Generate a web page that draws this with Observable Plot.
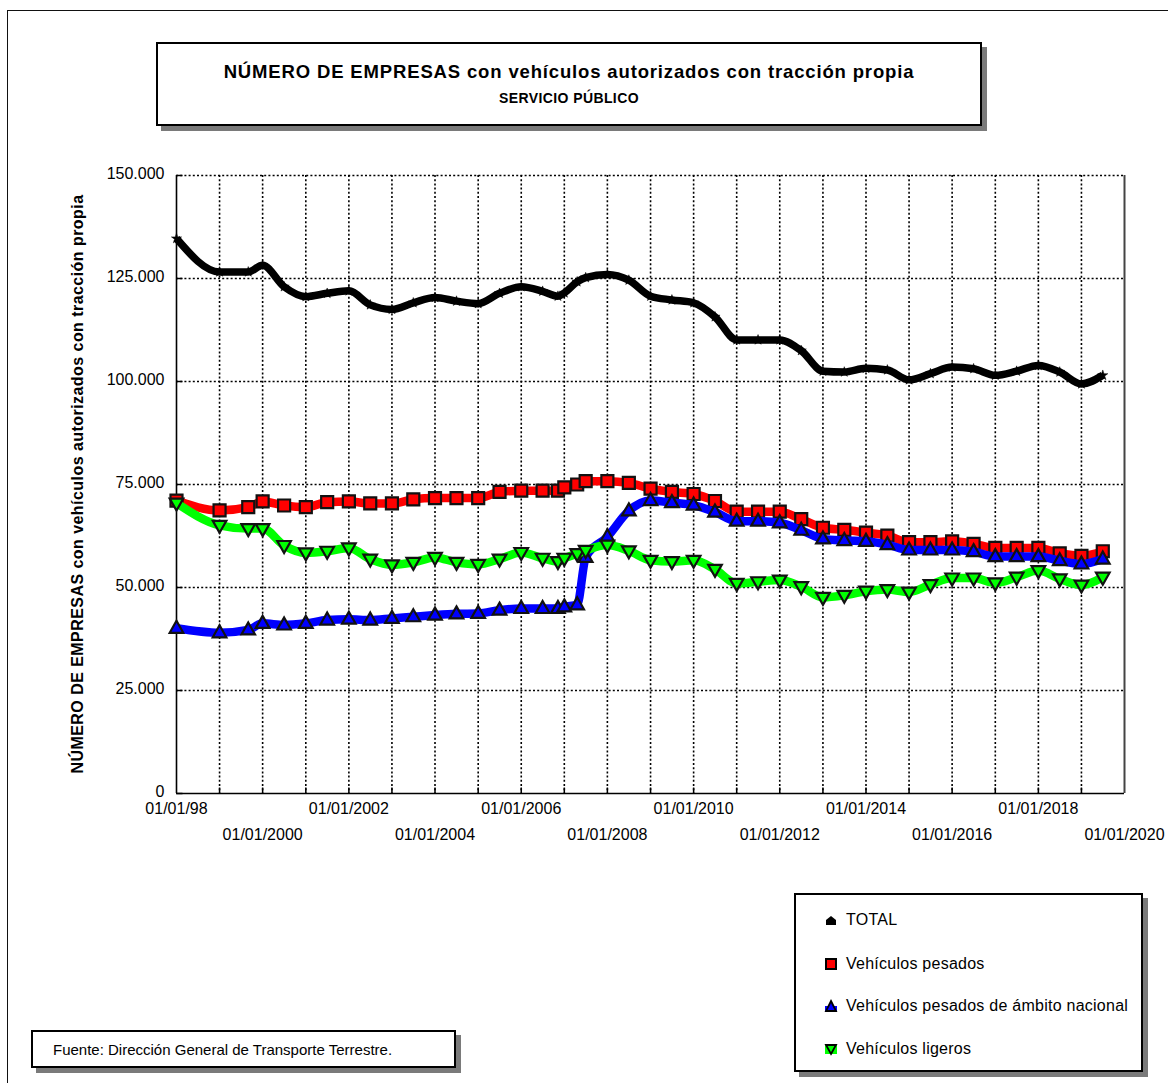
<!DOCTYPE html>
<html>
<head>
<meta charset="utf-8">
<script src="https://cdn.jsdelivr.net/npm/d3@7"></script>
<script src="https://cdn.jsdelivr.net/npm/@observablehq/plot@0.6"></script>
<style>
  html, body { margin: 0; padding: 0; background: #fff; }
  body { font-family: "Liberation Sans", Arial, sans-serif; color: #000; }
  #page { position: relative; width: 1168px; height: 1083px; overflow: hidden; background: #fff; }
  #outer { position: absolute; left: 7px; top: 10px; width: 1200px; height: 1200px; border-left: 1.5px solid #111; border-top: 1.5px solid #111; }
  #chart { position: absolute; left: 0; top: 0; }
  .box { position: absolute; background: #fff; border: 2px solid #000; box-shadow: 5px 5px 0 #7a7a7a; box-sizing: border-box; }
  #titlebox { left: 156px; top: 42px; width: 826px; height: 84px; }
  #title { position: absolute; left: 0; right: 0; top: 17px; text-align: center; font-weight: bold; font-size: 18.5px; letter-spacing: 0.85px; }
  #subtitle { position: absolute; left: 0; right: 0; top: 46px; text-align: center; font-weight: bold; font-size: 14px; letter-spacing: 0.4px; }
  #ytitle { position: absolute; left: 78px; top: 484px; transform: translate(-50%, -50%) rotate(-90deg); white-space: nowrap; font-weight: bold; font-size: 16px; letter-spacing: 0.45px; }
  #legend { left: 794px; top: 893px; width: 349px; height: 179px; }
  .item { position: absolute; left: 28px; height: 20px; display: flex; align-items: center; font-size: 16px; white-space: nowrap; letter-spacing: 0.25px; }
  .item svg { margin-right: 8px; }
  #footer { left: 31px; top: 1030px; width: 425px; height: 38px; }
  #footer div { position: absolute; left: 20px; right: 0; top: 9px; text-align: left; font-size: 15px; }
</style>
</head>
<body>
<div id="page">
  <div id="outer"></div>
  <div id="chart"></div>
  <div class="box" id="titlebox">
    <div id="title">NÚMERO DE EMPRESAS con vehículos autorizados con tracción propia</div>
    <div id="subtitle">SERVICIO PÚBLICO</div>
  </div>
  <div id="ytitle">NÚMERO DE EMPRESAS con vehículos autorizados con tracción propia</div>
  <div class="box" id="legend"></div>
  <div class="box" id="footer"><div>Fuente: Dirección General de Transporte Terrestre.</div></div>
</div>
<script>
// ---- Data ----
const dates = ["1998-01-01","1999-01-01","1999-09-01","2000-01-01","2000-07-01","2001-01-01","2001-07-01","2002-01-01","2002-07-01","2003-01-01","2003-07-01","2004-01-01","2004-07-01","2005-01-01","2005-07-01","2006-01-01","2006-07-01","2006-11-08","2007-01-01","2007-04-20","2007-07-01","2008-01-01","2008-07-01","2009-01-01","2009-07-01","2010-01-01","2010-07-01","2011-01-01","2011-07-01","2012-01-01","2012-07-01","2013-01-01","2013-07-01","2014-01-01","2014-07-01","2015-01-01","2015-07-01","2016-01-01","2016-07-01","2017-01-01","2017-07-01","2018-01-01","2018-07-01","2019-01-01","2019-07-01"];
const total    = [134700,126600,126600,128200,123000,120600,121400,122000,118600,117500,119100,120400,119500,118900,121400,123000,121900,120700,121500,124200,125200,126000,124600,120700,119800,119100,115700,110100,110100,110100,107500,102500,102300,103200,102800,100400,101900,103500,103100,101500,102500,103900,102300,99400,101500];
const pesados  = [71100,68700,69500,70900,69900,69500,70700,70900,70400,70400,71400,71700,71700,71700,73200,73500,73500,73500,74300,75000,75800,75800,75400,74000,73200,72700,71000,68400,68400,68400,66600,64500,64000,63300,62600,61000,61000,61200,60600,59600,59600,59600,58300,57700,58800];
const nacional = [40100,39000,39700,41300,40900,41300,42100,42300,42100,42500,42900,43300,43600,43700,44500,44900,44900,44900,45300,45800,57300,62300,68600,71100,70600,70000,68300,66100,66100,65700,63900,61800,61400,61200,60400,59100,59100,59100,58700,57500,57500,57500,56500,55700,56900];
const ligeros  = [70500,65100,64300,64300,60200,58400,58800,59600,56900,55500,56100,57300,56100,55600,56900,58500,57100,56300,57100,58200,59000,60300,58900,56600,56300,56600,54400,51000,51400,51800,50200,47600,48100,49100,49500,48900,50700,52300,52300,51100,52500,54100,52100,50600,52500];

const seriesNames  = ["TOTAL", "Vehículos pesados", "Vehículos pesados de ámbito nacional", "Vehículos ligeros"];
const seriesColors = ["#000000", "#ff0000", "#0000ff", "#00ff00"];

const yTicks      = [0, 25000, 50000, 75000, 100000, 125000, 150000];
const yTickLabels = ["0", "25.000", "50.000", "75.000", "100.000", "125.000", "150.000"];
const xTickDates  = ["1998-01-01","2000-01-01","2002-01-01","2004-01-01","2006-01-01","2008-01-01","2010-01-01","2012-01-01","2014-01-01","2016-01-01","2018-01-01","2020-01-01"];
const xTickLabels = ["01/01/98","01/01/2000","01/01/2002","01/01/2004","01/01/2006","01/01/2008","01/01/2010","01/01/2012","01/01/2014","01/01/2016","01/01/2018","01/01/2020"];

// ---- Build tables ----
const parse = s => new Date(s + "T00:00:00Z");
const valuesBySeries = [total, pesados, nacional, ligeros];
const rows = valuesBySeries.map((vals, si) => dates.map((d, i) => ({date: parse(d), value: vals[i], series: seriesNames[si]})));
const xTicks = xTickDates.map((d, i) => ({date: parse(d), label: xTickLabels[i], row: i % 2}));
const xDomain = [parse("1998-01-01"), parse("2020-01-01")];
const gridDates = d3.utcYear.range(parse("1999-01-01"), parse("2020-01-01"));

// custom symbols
const triUp = {draw(ctx) { ctx.moveTo(0, -7.5); ctx.lineTo(6.8, 4.5); ctx.lineTo(-6.8, 4.5); ctx.closePath(); }};
const triDown = {draw(ctx) { ctx.moveTo(0, 7.5); ctx.lineTo(6.8, -4.5); ctx.lineTo(-6.8, -4.5); ctx.closePath(); }};
const sq = {draw(ctx) { ctx.rect(-6, -6, 12, 12); }};
const tickIn = {draw(ctx) { ctx.moveTo(0, 0); ctx.lineTo(6, 0); }};
const tickUp = {draw(ctx) { ctx.moveTo(0, 0); ctx.lineTo(0, -6); }};

const lineOpts = (color, w) => ({x: "date", y: "value", stroke: color, strokeWidth: w, curve: "monotone-x", strokeLinejoin: "round", strokeLinecap: "butt"});

const chart = Plot.plot({
  width: 1168,
  height: 870,
  marginLeft: 176,
  marginRight: 44,
  marginTop: 175,
  marginBottom: 77,
  style: {fontFamily: "Liberation Sans, Arial, sans-serif", fontSize: "16px", color: "#000", background: "transparent"},
  x: {type: "utc", domain: xDomain, axis: null},
  y: {domain: [0, 150000], axis: null},
  marks: [
    // grid
    Plot.ruleY(yTicks.filter(d => d > 0), {stroke: "#000", strokeWidth: 1.6, strokeDasharray: "2,2.2"}),
    Plot.ruleX(gridDates, {stroke: "#000", strokeWidth: 1.6, strokeDasharray: "2,2.2"}),
    // frame sides
    Plot.ruleX([xDomain[1]], {stroke: "#444", strokeWidth: 2}),
    Plot.ruleX([xDomain[0]], {stroke: "#000", strokeWidth: 1.6}),
    Plot.ruleY([0], {stroke: "#000", strokeWidth: 1.6}),
    // inward ticks
    Plot.dot(yTicks, {x: () => xDomain[0], y: d => d, symbol: tickIn, stroke: "#000", fill: "none", strokeWidth: 1.5}),
    Plot.dot(gridDates, {x: d => d, y: () => 0, symbol: tickUp, stroke: "#000", fill: "none", strokeWidth: 1.5}),
    // tick labels
    Plot.text(yTicks, {y: d => d, text: (d, i) => yTickLabels[i], frameAnchor: "left", textAnchor: "end", dx: -12, dy: -2, fontSize: 16}),
    Plot.text(xTicks.filter(d => d.row === 0), {x: "date", text: "label", frameAnchor: "bottom", dy: 20, fontSize: 16}),
    Plot.text(xTicks.filter(d => d.row === 1), {x: "date", text: "label", frameAnchor: "bottom", dy: 46, fontSize: 16}),
    // lines
    Plot.line(rows[0], lineOpts(seriesColors[0], 7.5)),
    Plot.dot(rows[0], {x: "date", y: "value", symbol: "star", r: 3.2, fill: "#000", stroke: "#000", strokeWidth: 0.5}),
    Plot.line(rows[1], lineOpts(seriesColors[1], 8.5)),
    Plot.dot(rows[1], {x: "date", y: "value", symbol: sq, fill: seriesColors[1], stroke: "#111", strokeWidth: 2.2}),
    Plot.line(rows[2], lineOpts(seriesColors[2], 8.5)),
    Plot.dot(rows[2], {x: "date", y: "value", symbol: triUp, fill: seriesColors[2], stroke: "#111", strokeWidth: 2.2}),
    Plot.line(rows[3], lineOpts(seriesColors[3], 8.5)),
    Plot.dot(rows[3], {x: "date", y: "value", symbol: triDown, fill: seriesColors[3], stroke: "#111", strokeWidth: 2.2})
  ]
});
document.getElementById("chart").appendChild(chart);

// ---- Legend ----
const legendIcons = [
  '<svg width="14" height="14" viewBox="0 0 14 14"><path d="M2 7 L7 3 L12 7 Z" fill="#000"/><rect x="2" y="7" width="10" height="5" fill="#000"/></svg>',
  '<svg width="14" height="14" viewBox="0 0 14 14"><rect x="2" y="2" width="10" height="10" fill="#ff0000" stroke="#000" stroke-width="2"/></svg>',
  '<svg width="14" height="14" viewBox="0 0 14 14"><rect x="1" y="7" width="12" height="6" fill="#0000ff"/><path d="M7 2 L12 12 L2 12 Z" fill="#0000ff" stroke="#000" stroke-width="1.8"/></svg>',
  '<svg width="14" height="14" viewBox="0 0 14 14"><rect x="1" y="2" width="12" height="10" fill="#00ff00"/><path d="M7 12 L12 3 L2 3 Z" fill="#00ff00" stroke="#000" stroke-width="1.8"/></svg>'
];
const legendTops = [15, 59, 101, 144];
const legend = document.getElementById("legend");
seriesNames.forEach((name, i) => {
  const it = document.createElement("div");
  it.className = "item";
  it.style.top = legendTops[i] + "px";
  it.innerHTML = legendIcons[i] + "<span></span>";
  it.querySelector("span").textContent = name;
  legend.appendChild(it);
});
</script>
</body>
</html>
